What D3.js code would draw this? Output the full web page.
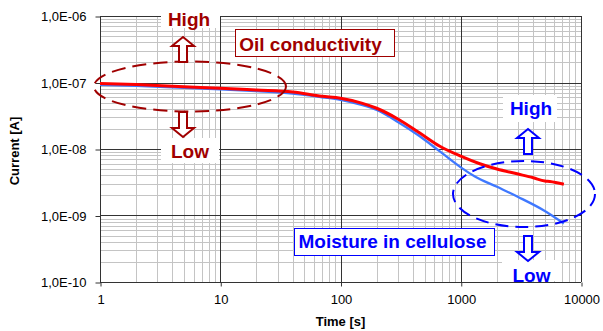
<!DOCTYPE html>
<html>
<head>
<meta charset="utf-8">
<script src="https://cdn.jsdelivr.net/npm/d3@7"></script>
<style>
  body { margin: 0; background: #fff; }
  text { font-family: "Liberation Sans", Arial, sans-serif; }
</style>
</head>
<body>
<div class="chart"></div>
<script>
// polarisation current vs time
var xTicks = [1, 10, 100, 1000, 10000];
var xTickLabels = ["1", "10", "100", "1000", "10000"];
var yTicks = [1e-10, 1e-9, 1e-8, 1e-7, 1e-6];
var yTickLabels = ["1,0E-10", "1,0E-09", "1,0E-08", "1,0E-07", "1,0E-06"];

var oilTime = [1, 2, 5, 10, 20, 40, 70, 100, 150, 200, 300, 450, 670, 1000, 1440, 2000, 3000, 4000, 5000, 5500, 7200];
var oilCurrent = [9.7e-8, 9.3e-8, 8.6e-8, 8.2e-8, 7.7e-8, 7.2e-8, 6.2e-8, 5.8e-8, 4.9e-8, 4.1e-8, 2.83e-8, 1.77e-8, 1.1e-8, 7.8e-9, 6.0e-9, 5.0e-9, 4.2e-9, 3.7e-9, 3.3e-9, 3.25e-9, 2.95e-9];

var moistTime = [1, 2, 5, 10, 20, 40, 70, 100, 150, 200, 300, 450, 670, 1000, 1300, 2000, 3000, 5000, 7200];
var moistCurrent = [9.2e-8, 8.9e-8, 8.3e-8, 7.9e-8, 7.4e-8, 6.8e-8, 6.0e-8, 5.5e-8, 4.6e-8, 3.85e-8, 2.55e-8, 1.58e-8, 9.2e-9, 5.3e-9, 3.9e-9, 2.7e-9, 1.9e-9, 1.17e-9, 7.6e-10];

var darkRed = "#a00000";
var blueText = "#0000ff";

var svg = d3.select(".chart").append("svg")
    .attr("width", 603)
    .attr("height", 331);

var x = d3.scaleLog().domain([1, 10000]).range([100, 581]);
var y = d3.scaleLog().domain([1e-10, 1e-6]).range([282, 16]);

function snap(v) { return Math.round(v) + 0.5; }

// minor grid
var xMinor = x.ticks().filter(function (d) { return xTicks.indexOf(d) < 0; });
var yMinor = y.ticks().filter(function (d) { return yTicks.indexOf(d) < 0; });

var grid = svg.append("g");
grid.selectAll(".vx")
    .data(xMinor)
    .enter()
        .append("line")
        .attr("x1", function (d) { return snap(x(d)); })
        .attr("x2", function (d) { return snap(x(d)); })
        .attr("y1", 16)
        .attr("y2", 282)
        .attr("stroke", "#c4c4c4");
grid.selectAll(".hy")
    .data(yMinor)
    .enter()
        .append("line")
        .attr("y1", function (d) { return snap(y(d)); })
        .attr("y2", function (d) { return snap(y(d)); })
        .attr("x1", 100)
        .attr("x2", 581)
        .attr("stroke", "#c4c4c4");

// major grid
grid.selectAll(".vmaj")
    .data(xTicks)
    .enter()
        .append("line")
        .attr("x1", function (d) { return snap(x(d)); })
        .attr("x2", function (d) { return snap(x(d)); })
        .attr("y1", 16)
        .attr("y2", 282)
        .attr("stroke", "#333");
grid.selectAll(".hmaj")
    .data(yTicks)
    .enter()
        .append("line")
        .attr("y1", function (d) { return snap(y(d)); })
        .attr("y2", function (d) { return snap(y(d)); })
        .attr("x1", 100)
        .attr("x2", 581)
        .attr("stroke", "#333");

// axes
var xAxis = d3.axisBottom(x)
    .tickValues(xTicks)
    .tickSize(4)
    .tickFormat(function (d, i) { return xTickLabels[i]; });
var gx = svg.append("g")
    .attr("transform", "translate(0.5,282.5)")
    .call(xAxis);
gx.select(".domain").remove();
gx.selectAll("line").attr("stroke", "#333");
gx.selectAll("text")
    .attr("y", 17)
    .attr("dy", "0.35em")
    .attr("fill", "#000")
    .style("font-size", "13px")
    .style("font-family", "'Liberation Sans', Arial, sans-serif");

var yAxis = d3.axisLeft(y)
    .tickValues(yTicks)
    .tickSize(5)
    .tickFormat(function (d, i) { return yTickLabels[i]; });
var gy = svg.append("g")
    .attr("transform", "translate(100.5,0.5)")
    .call(yAxis);
gy.select(".domain").remove();
gy.selectAll("line").attr("stroke", "#333");
gy.selectAll("text")
    .attr("x", -14)
    .attr("fill", "#000")
    .style("font-size", "13px")
    .style("font-family", "'Liberation Sans', Arial, sans-serif");

svg.append("text")
    .attr("x", 340.5)
    .attr("y", 326)
    .attr("text-anchor", "middle")
    .style("font-size", "13px")
    .style("font-weight", "bold")
    .text("Time [s]");

svg.append("text")
    .attr("transform", "translate(18.5,151) rotate(-90)")
    .attr("text-anchor", "middle")
    .style("font-size", "13px")
    .style("font-weight", "bold")
    .text("Current [A]");

// white label backgrounds
var pads = [[161, 8, 59, 20], [161, 138, 58, 25], [503, 95, 54, 27], [502, 260, 59, 21]];
svg.selectAll(".pad")
    .data(pads)
    .enter()
        .append("rect")
        .attr("x", function (d) { return d[0]; })
        .attr("y", function (d) { return d[1]; })
        .attr("width", function (d) { return d[2]; })
        .attr("height", function (d) { return d[3]; })
        .attr("fill", "#fff");

// curves
var line = d3.line()
    .curve(d3.curveMonotoneX)
    .x(function (d) { return x(d[0]); })
    .y(function (d) { return y(d[1]); });

svg.append("path")
    .attr("d", line(d3.zip(moistTime, moistCurrent)))
    .attr("fill", "none")
    .attr("stroke", "#3f78ff")
    .attr("stroke-width", 2.3);

svg.append("path")
    .attr("d", line(d3.zip(oilTime, oilCurrent)))
    .attr("fill", "none")
    .attr("stroke", "#ff0000")
    .attr("stroke-width", 3);

// dashed ellipses
svg.append("ellipse")
    .attr("cx", 190).attr("cy", 86.5)
    .attr("rx", 96).attr("ry", 25)
    .attr("fill", "none")
    .attr("stroke", darkRed)
    .attr("stroke-width", 2)
    .attr("stroke-dasharray", "14,7");

svg.append("ellipse")
    .attr("cx", 524).attr("cy", 194)
    .attr("rx", 71).attr("ry", 33)
    .attr("fill", "none")
    .attr("stroke", blueText)
    .attr("stroke-width", 2)
    .attr("stroke-dasharray", "13,7");

// hollow block arrows
function arrow(cx, top, len, up, color) {
    var hw = 11, sw = 4, hh = 9;
    var pts;
    if (up) {
        pts = [[cx, top], [cx + hw, top + hh], [cx + sw, top + hh], [cx + sw, top + len],
               [cx - sw, top + len], [cx - sw, top + hh], [cx - hw, top + hh]];
    } else {
        var b = top + len;
        pts = [[cx, b], [cx + hw, b - hh], [cx + sw, b - hh], [cx + sw, top],
               [cx - sw, top], [cx - sw, b - hh], [cx - hw, b - hh]];
    }
    svg.append("polygon")
        .attr("points", pts.map(function (p) { return p.join(","); }).join(" "))
        .attr("fill", "#fff")
        .attr("stroke", color)
        .attr("stroke-width", 2);
}
arrow(183, 37, 25, true, darkRed);
arrow(183, 112, 25, false, darkRed);
arrow(528, 129, 25, true, blueText);
arrow(528, 236, 25, false, blueText);

// labels
svg.append("rect")
    .attr("x", 235.5).attr("y", 29.5)
    .attr("width", 159).attr("height", 27)
    .attr("fill", "#fff")
    .attr("stroke", darkRed);
svg.append("rect")
    .attr("x", 294.5).attr("y", 228.5)
    .attr("width", 200).attr("height", 27)
    .attr("fill", "#fff")
    .attr("stroke", blueText);

var labels = [
    ["High", 189, 26, darkRed],
    ["Low", 190, 158.3, darkRed],
    ["Oil conductivity", 310.5, 50.5, darkRed],
    ["High", 531, 115, blueText],
    ["Low", 531.5, 281.5, blueText],
    ["Moisture in cellulose", 392.5, 248.3, blueText]
];
svg.selectAll(".lab")
    .data(labels)
    .enter()
        .append("text")
        .attr("x", function (d) { return d[1]; })
        .attr("y", function (d) { return d[2]; })
        .attr("text-anchor", "middle")
        .attr("fill", function (d) { return d[3]; })
        .style("font-size", "19px")
        .style("font-weight", "bold")
        .text(function (d) { return d[0]; });
</script>
</body>
</html>
